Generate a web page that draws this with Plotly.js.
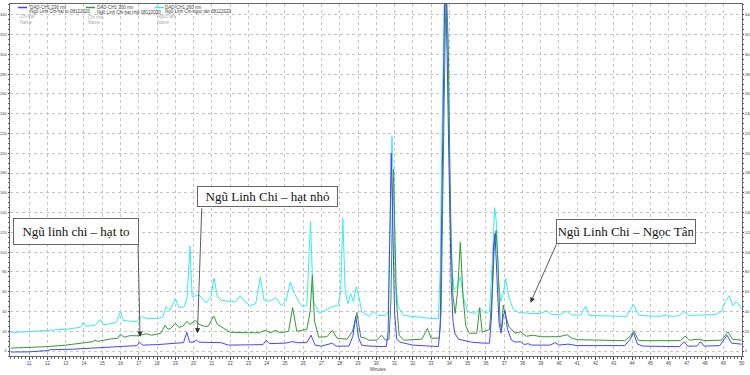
<!DOCTYPE html>
<html>
<head>
<meta charset="utf-8">
<script src="https://cdn.plot.ly/plotly-3.0.1.min.js"></script>
<style>html,body{margin:0;padding:0;background:#fff}#chart{width:750px;height:375px}</style>
</head>
<body>
<div id="chart"></div>
<script>
// ---- data ----
const blueName = "DAD-CH1 236 nm";
const greenName = "DAD-CH1 300 nm";
const cyanName = "DAD-CH1 260 nm";

const blueT = [10.0,11.0,12.0,12.2,13.0,14.0,15.0,16.0,16.9,17.05,17.2,18.0,19.0,19.45,19.63,19.78,20.0,20.15,20.3,21.0,21.5,21.9,23.0,23.8,23.97,24.15,25.0,25.4,25.7,26.2,26.43,26.65,27.0,27.6,27.8,28.5,28.72,28.88,29.02,29.2,29.6,30.0,30.55,30.65,30.75,30.82,30.9,31.0,31.12,31.3,32.0,32.8,33.4,33.5,33.56,33.62,33.68,33.74,33.8,33.88,33.95,34.02,34.1,34.2,34.3,34.5,34.7,35.2,35.9,36.2,36.32,36.42,36.5,36.6,36.72,36.83,36.95,37.05,37.18,37.4,37.6,37.9,38.1,38.3,38.5,39.5,39.8,40.0,40.5,41.0,43.6,43.9,44.08,44.3,44.6,46.6,46.85,47.05,47.55,47.75,47.95,48.8,49.2,49.45,50.0];
const blueV = [-1,-0.8,0.5,1.5,1.5,2.5,3.5,5,5.5,9,6,6.5,7.5,8.5,19,9,9,11,9,9,8.5,6,6,6.5,11,7.5,8,9.5,8.5,8.5,16,6,5,8,5,5,15,35,14,6,5,4.5,4.5,20,120,200,130,40,12,9,6,5,4.5,25,100,200,300,350,355,300,220,140,70,30,18,12,11,9,8,8,40,105,119,80,28,18,35,41,22,11,9,9.5,6.5,7.5,6,6,8.5,6,7,5.5,5.5,12,18.5,7,5,4.5,9.5,5,5,9.5,5,5.5,16,8,7];

const greenT = [10.0,11.0,12.0,13.0,14.0,14.5,14.6,14.75,15.4,15.85,16.0,16.2,16.5,17.0,17.4,17.7,18.2,18.44,18.6,18.75,19.0,19.2,19.4,19.63,19.8,20.08,20.3,20.6,20.8,21.1,21.3,21.55,22.0,23.0,23.6,23.9,24.2,24.5,24.75,25.2,25.42,25.65,26.2,26.38,26.5,26.62,26.85,27.3,27.6,27.85,28.4,28.7,28.94,29.15,29.4,29.6,30.0,30.3,30.5,30.7,30.8,30.9,30.95,31.03,31.1,31.25,31.5,32.5,32.8,33.0,33.45,33.55,33.62,33.7,33.78,33.86,33.94,34.02,34.1,34.2,34.32,34.45,34.6,34.75,34.9,35.1,35.5,35.66,35.8,36.2,36.35,36.48,36.56,36.66,36.78,36.86,36.95,37.05,37.25,37.6,37.9,38.2,38.6,39.0,40.0,40.45,40.7,41.0,43.6,43.9,44.1,44.35,44.6,46.65,46.9,47.15,47.6,48.0,48.9,49.25,49.5,50.0];
const greenV = [3,3.5,4.5,6,8,9.5,11,9.8,12,13,17,14,15.5,15.5,17.5,16,18,26,22,23,28,24,25,30,27,31,27,25,25,35.5,27,24,19,18.5,18.5,21,18.5,21,18.5,20,44,20,22,40,77,30,14,14.5,21,13,12,20,39,14,13,11,11,16,11,12,50,160,184,110,52,16,11,12,23,13,13,40,120,240,330,355,310,200,110,55,38,60,110,55,25,18,18,44,19,22,60,112,122,90,28,22,46.5,38,25,18,19.5,15,16,14.5,14.5,16.5,13,11.5,10.5,15,20.5,11,10.5,10.5,15,11,12,10.5,11,19.5,12,11];

const cyanT = [10.0,11.0,12.0,13.0,13.8,13.97,14.1,14.6,14.9,15.05,15.6,15.8,16.0,16.15,16.6,16.9,17.2,17.4,18.0,18.3,18.5,18.7,19.0,19.2,19.5,19.65,19.8,19.92,20.3,20.7,20.95,21.12,21.3,21.5,22.0,22.3,22.55,22.8,23.1,23.4,23.65,23.85,24.1,24.5,24.8,25.05,25.3,25.5,25.75,25.95,26.2,26.4,26.55,26.9,27.3,27.6,27.9,28.05,28.17,28.3,28.45,28.6,28.75,28.9,29.05,29.2,29.6,29.85,30.1,30.5,30.65,30.75,30.86,30.95,31.05,31.2,31.5,32.5,33.0,33.4,33.5,33.58,33.65,33.72,33.82,33.9,33.98,34.05,34.15,34.25,34.45,34.6,34.8,35.0,35.4,35.7,35.95,36.2,36.35,36.48,36.58,36.7,36.82,36.95,37.08,37.25,37.5,37.8,38.5,39.0,39.3,39.6,40.1,40.4,40.7,41.2,41.45,41.65,43.7,44.07,44.4,45.5,45.9,46.2,46.6,46.85,47.1,48.6,48.9,49.1,49.33,49.52,49.7,50.0];
const cyanV = [19,19.5,21,22,24,29,25,26,32,26.5,28,30,40,31,30,30,35,33,33,34,45,41,53,44,45,55,106,55,56.7,48.6,55,74,55,51.6,50,50,56,50,46,48,75,52,50,54,46,50,70,59,50,45,46,131,50,38.5,42,45,46,60,134,60,48,58,50,65,55,40,35,40,36,36,40,120,217,150,70,45,36,34,33,33,80,200,300,350,355,320,220,140,85,62,66,75,52,40,38,43,38,40,90,145,130,70,50,58,73.6,55,42,39,38,38,41,37,37,40.5,36.5,36.5,45.5,36,35,47,36,35,36.5,35,36,40,36,37,40,50,56,45.5,50,43];

const xTickVals = [11,12,13,14,15,16,17,18,19,20,21,22,23,24,25,26,27,28,29,30,31,32,33,34,35,36,37,38,39,40,41,42,43,44,45,46,47,48,49,50];
const yTickVals = [0,20,40,60,80,100,120,140,160,180,200,220,240,260,280,300,320,340];

const legendEntries = [
  {color:'#4444ff', l1:'DAD-CH1 236 nm', l2:'Ngũ Linh Chi-hạt to 08122020', g1:'Chi-hạt', g2:'Name'},
  {color:'#339933', l1:'DAD-CH1 300 nm', l2:'Ngũ Linh Chi-hạt nhỏ 08122020', g1:'Chi nhỏ', g2:'Name'},
  {color:'#33eeee', l1:'DAD-CH1 260 nm', l2:'Ngũ Linh Chi-ngọc tân 08122020', g1:'Ngọc tân', g2:'Name'}
];

const labelBoxes = [
  {text:'Ngũ linh chi – hạt to', x:13.56, y:121, w:120, h:21, tx:16.96, ty:108.5, hx:17.07, hy:14.5},
  {text:'Ngũ Linh Chi – hạt nhỏ', x:24.05, y:156, w:135, h:15, tx:20.45, ty:146, hx:20.21, hy:17.9},
  {text:'Ngũ Linh Chi – Ngọc Tân', x:43.66, y:121, w:134, h:19, tx:39.9, ty:109.6, hx:38.44, hy:48.9}
];

// ---- chart ----
const traces = [
  {x:cyanT, y:cyanV, name:cyanName, type:'scatter', mode:'lines', line:{color:'#33eeee', width:1}},
  {x:greenT, y:greenV, name:greenName, type:'scatter', mode:'lines', line:{color:'#339933', width:1}},
  {x:blueT, y:blueV, name:blueName, type:'scatter', mode:'lines', line:{color:'#4444ff', width:1}}
];
traces.push({x:[30], y:[0], yaxis:'y2', mode:'markers', marker:{opacity:0}, showlegend:false, hoverinfo:'skip'});

const PL = 10, PR = 742, PT = 4, PB = 356;
const px = x => (x - PL) / (PR - PL);
const py = y => (PB - y) / (PB - PT);

const annotations = [];
const shapes = [];
const smallFont = c => ({family:'Arial, Liberation Sans', size:4.5, color:c});

legendEntries.forEach((e, i) => {
  const lx = [18, 86, 155][i];
  const tx = [28, 95, 163][i];
  shapes.push({type:'line', xref:'paper', yref:'paper', x0:px(lx), x1:px(lx+9), y0:py(7.5), y1:py(7.5), line:{color:e.color, width:1.5}});
  annotations.push({xref:'paper', yref:'paper', x:px(tx), y:py(7), xanchor:'left', yanchor:'middle', text:e.l1, showarrow:false, font:smallFont('#444')});
  annotations.push({xref:'paper', yref:'paper', x:px(tx), y:py(12), xanchor:'left', yanchor:'middle', text:e.l2, showarrow:false, font:smallFont('#444')});
  annotations.push({xref:'paper', yref:'paper', x:px(lx), y:py(16.5), xanchor:'left', yanchor:'middle', text:e.g1, showarrow:false, font:smallFont('#aaa')});
  annotations.push({xref:'paper', yref:'paper', x:px(lx), y:py(22), xanchor:'left', yanchor:'middle', text:e.g2, showarrow:false, font:smallFont('#aaa')});
});

labelBoxes.forEach(b => {
  annotations.push({x:b.x, y:b.y, xref:'x', yref:'y', text:b.text, showarrow:false,
    font:{family:'Liberation Serif, Times New Roman, serif', size:13, color:'#111'},
    bgcolor:'#ffffff', bordercolor:'#666', borderwidth:1, borderpad:2, width:b.w, height:b.h});
  annotations.push({x:b.hx, y:b.hy, xref:'x', yref:'y', ax:b.tx, ay:b.ty, axref:'x', ayref:'y', text:'',
    showarrow:true, arrowhead:2, arrowsize:1.3, arrowwidth:0.8, arrowcolor:'#333'});
});

annotations.push({xref:'paper', yref:'paper', x:px(379), y:py(369.5), text:'Minutes', showarrow:false, xanchor:'center', yanchor:'middle', font:smallFont('#444')});

const tickFont = {family:'Arial, Liberation Sans', size:4, color:'#444'};
const layout = {
  width:750, height:375,
  margin:{l:PL, r:750-PR, t:PT, b:375-PB, pad:0},
  paper_bgcolor:'#ffffff', plot_bgcolor:'#ffffff',
  showlegend:false,
  xaxis:{range:[9.95,50.02], tickmode:'array', tickvals:xTickVals, ticktext:xTickVals.map(String),
    ticks:'outside', ticklen:3, tickcolor:'#444', tickfont:{family:'Arial, Liberation Sans', size:4.5, color:'#444'}, automargin:false,
    showgrid:true, gridcolor:'#c4c4c4', griddash:'dot', gridwidth:1, zeroline:false,
    showline:true, linecolor:'#666', linewidth:1, mirror:true,
    minor:{dtick:0.2, tick0:10, ticks:'outside', ticklen:1.5, tickcolor:'#666', showgrid:false}},
  yaxis:{range:[-5,351], tickmode:'array', tickvals:yTickVals, ticktext:yTickVals.map(String),
    ticks:'outside', ticklen:1.5, tickcolor:'#444', tickfont:tickFont, automargin:false,
    showgrid:true, gridcolor:'#c4c4c4', griddash:'dot', gridwidth:1, zeroline:false,
    showline:true, linecolor:'#666', linewidth:1,
    minor:{dtick:5, tick0:0, ticks:'outside', ticklen:1, tickcolor:'#666', showgrid:false}},
  yaxis2:{overlaying:'y', side:'right', matches:'y', range:[-5,351], tickmode:'array', tickvals:yTickVals, ticktext:yTickVals.map(String),
    ticks:'outside', ticklen:1, tickcolor:'#444', tickfont:tickFont, automargin:false, showgrid:false, zeroline:false,
    showline:true, linecolor:'#666', linewidth:1,
    minor:{dtick:5, tick0:0, ticks:'outside', ticklen:1, tickcolor:'#666', showgrid:false}},
  annotations:annotations,
  shapes:shapes
};

Plotly.newPlot('chart', traces, layout, {staticPlot:true, displayModeBar:false});
</script>
</body>
</html>
